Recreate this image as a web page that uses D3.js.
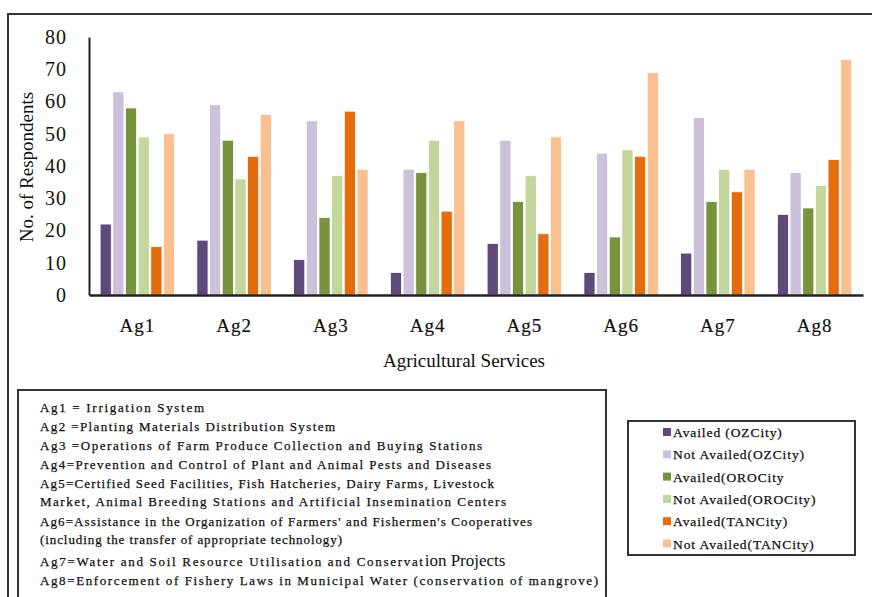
<!DOCTYPE html>
<html>
<head>
<meta charset="UTF-8">
<style>
  html, body { margin: 0; padding: 0; background: #fff; }
  svg { display: block; font-family: "Liberation Serif", "DejaVu Serif", serif; }
</style>
</head>
<body>
<svg width="872" height="597"></svg>
<script src="https://d3js.org/d3.v7.min.js"></script>
<script>
// categories and series
var categories = ["Ag1", "Ag2", "Ag3", "Ag4", "Ag5", "Ag6", "Ag7", "Ag8"];
var seriesNames = ["Availed (OZCity)", "Not Availed(OZCity)", "Availed(OROCity",
                   "Not Availed(OROCity)", "Availed(TANCity)", "Not Availed(TANCity)"];
var seriesColors = ["#5f497a", "#ccc0da", "#77933c", "#c3d69b", "#e46c0a", "#fac090"];

// values per series, one per category
var availedOZ    = [22, 17, 11, 7, 16, 7, 13, 25];
var notAvailedOZ = [63, 59, 54, 39, 48, 44, 55, 38];
var availedORO   = [58, 48, 24, 38, 29, 18, 29, 27];
var notAvailedORO= [49, 36, 37, 48, 37, 45, 39, 34];
var availedTAN   = [15, 43, 57, 26, 19, 43, 32, 42];
var notAvailedTAN= [50, 56, 39, 54, 49, 69, 39, 73];
var yTicks = [0, 10, 20, 30, 40, 50, 60, 70, 80];

var notes = [
  "Ag1 = Irrigation System",
  "Ag2 =Planting Materials Distribution System",
  "Ag3 =Operations of Farm Produce Collection and Buying Stations",
  "Ag4=Prevention and Control of Plant and Animal Pests and Diseases",
  "Ag5=Certified Seed Facilities, Fish Hatcheries, Dairy Farms, Livestock",
  "Market, Animal Breeding Stations and Artificial Insemination Centers",
  "Ag6=Assistance in the Organization of Farmers' and Fishermen's Cooperatives",
  "(including the transfer of appropriate technology)",
  "Ag7=Water and Soil Resource Utilisation and Conservat|ion Projects",
  "Ag8=Enforcement of Fishery Laws in Municipal Water (conservation of mangrove)"
];
// layout of the note lines (baseline y, rendered width)
var noteY = [412, 431, 450, 469, 488, 506, 526, 544, 566, 585];
var noteW = [164, 295, 442, 451, 454, 466, 492, 302, 383, 558];

var allSeries = [availedOZ, notAvailedOZ, availedORO, notAvailedORO, availedTAN, notAvailedTAN];
var data = categories.map(function (c, i) {
  return { cat: c, vals: allSeries.map(function (s, j) { return { k: j, v: s[i] }; }) };
});

var svg = d3.select("svg");

// outer frame
svg.append("rect").attr("x", 8).attr("y", 14).attr("width", 880).attr("height", 600)
  .attr("fill", "none").attr("stroke", "#333").attr("stroke-width", 2);

// scales
var x0 = d3.scaleBand().domain(categories).range([89, 863]).paddingInner(0.23).paddingOuter(0.115);
var x1 = d3.scaleBand().domain(d3.range(6)).range([0, x0.bandwidth()]).paddingInner(0.12);
var y = d3.scaleLinear().domain([0, 80]).range([295, 37]);

// bars
svg.append("g").selectAll("g").data(data).enter().append("g")
  .attr("transform", function (d) { return "translate(" + x0(d.cat) + ",0)"; })
  .selectAll("rect").data(function (d) { return d.vals; }).enter().append("rect")
  .attr("x", function (d) { return x1(d.k); })
  .attr("y", function (d) { return y(d.v); })
  .attr("width", x1.bandwidth())
  .attr("height", function (d) { return y(0) - y(d.v); })
  .attr("fill", function (d) { return seriesColors[d.k]; })
  .attr("stroke", "#fff").attr("stroke-width", 0.8);

// y axis
var yAxis = svg.append("g").attr("transform", "translate(89,0)")
  .call(d3.axisLeft(y).tickValues(yTicks).tickSize(0).tickPadding(22));
yAxis.select(".domain").attr("stroke", "#222").attr("stroke-width", 2);
yAxis.selectAll("text").attr("font-size", 20).attr("fill", "#111")
  .attr("font-family", "Liberation Serif").attr("letter-spacing", 1);

// x axis
var xAxis = svg.append("g").attr("transform", "translate(0,295)")
  .call(d3.axisBottom(x0).tickSize(0).tickPadding(24));
xAxis.select(".domain").attr("stroke", "#222").attr("stroke-width", 2.5);
xAxis.selectAll("text").attr("font-size", 19).attr("fill", "#111")
  .attr("font-family", "Liberation Serif").attr("letter-spacing", 1)
  .attr("stroke", "#111").attr("stroke-width", 0.2);

// axis titles
svg.append("text").attr("x", 464).attr("y", 367).attr("text-anchor", "middle")
  .attr("font-size", 19).attr("fill", "#111").text("Agricultural Services");
svg.append("text").attr("transform", "translate(33,167) rotate(-90)")
  .attr("text-anchor", "middle").attr("font-size", 19).attr("fill", "#111")
  .text("No. of Respondents");

// notes box
svg.append("rect").attr("x", 18).attr("y", 390).attr("width", 588).attr("height", 230)
  .attr("fill", "none").attr("stroke", "#333").attr("stroke-width", 2);
var noteG = svg.append("g").attr("font-family", "Liberation Serif");
notes.forEach(function (t, i) {
  var parts = t.split("|");
  var tx = noteG.append("text").attr("x", 40).attr("y", noteY[i])
    .attr("font-size", 13).attr("fill", "#111");
  tx.append("tspan").attr("stroke", "#111").attr("stroke-width", 0.25)
    .attr("textLength", noteW[i]).attr("lengthAdjust", "spacing").text(parts[0]);
  if (parts[1]) tx.append("tspan").attr("font-size", 17).text(parts[1]);
});

// series legend
svg.append("rect").attr("x", 628).attr("y", 421).attr("width", 227).attr("height", 134)
  .attr("fill", "none").attr("stroke", "#333").attr("stroke-width", 2);
var leg = svg.append("g").attr("font-family", "Liberation Serif")
  .selectAll("g").data(seriesNames).enter().append("g")
  .attr("transform", function (d, i) { return "translate(663," + (432 + i * 22.3) + ")"; });
leg.append("rect").attr("x", 0).attr("y", -4).attr("width", 8).attr("height", 8)
  .attr("fill", function (d, i) { return seriesColors[i]; });
leg.append("text").attr("x", 10).attr("y", 5).attr("font-size", 13.5)
  .attr("letter-spacing", 0.9).attr("stroke", "#111").attr("stroke-width", 0.25)
  .attr("fill", "#111").text(function (d) { return d; });
</script>
</body>
</html>
